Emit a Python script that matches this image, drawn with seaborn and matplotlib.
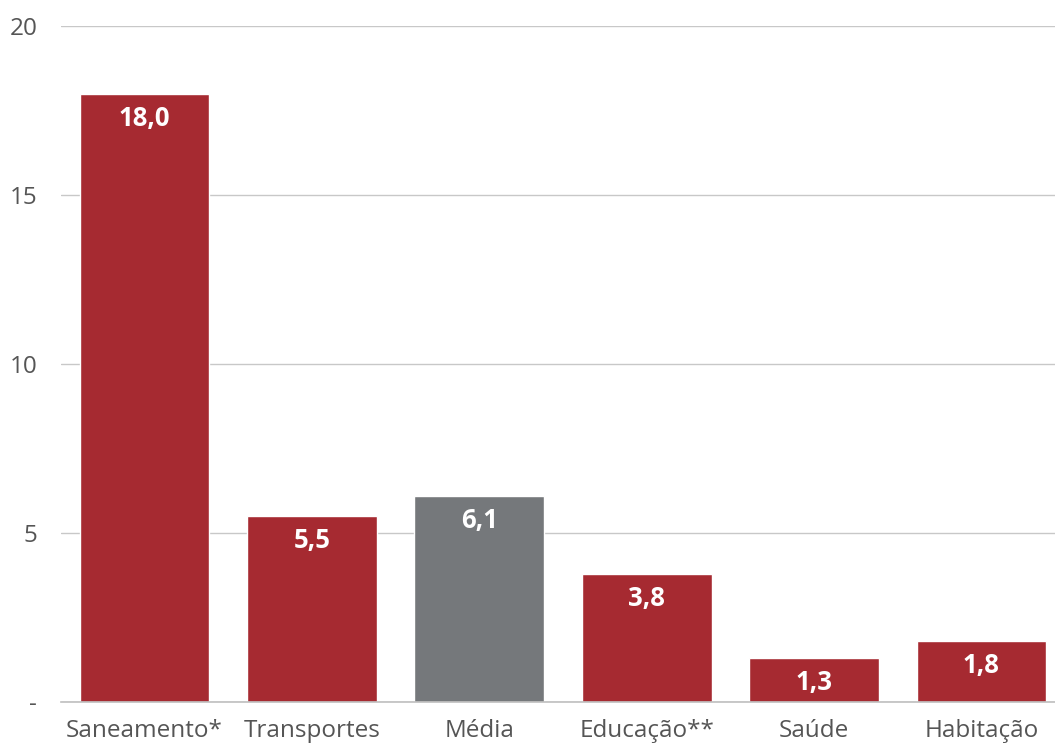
import seaborn as sns
import matplotlib.pyplot as plt
import pandas as pd

categorias = ['Saneamento*', 'Transportes', 'Média', 'Educação**', 'Saúde', 'Habitação']
valores = [18.0, 5.5, 6.1, 3.8, 1.3, 1.8]
rotulos = ['18,0', '5,5', '6,1', '3,8', '1,3', '1,8']
y_ticks = [0, 5, 10, 15, 20]
y_labels = ['-', '5', '10', '15', '20']

if __name__ == "__main__":
    sns.set_style('white')
    plt.rcParams['font.family'] = ['Open Sans', 'DejaVu Sans']

    vermelho = '#A62A31'
    cinza = '#75787B'
    texto = '#555555'

    df = pd.DataFrame({'categoria': categorias, 'valor': valores})
    cores = {c: (cinza if c == 'Média' else vermelho) for c in categorias}

    fig = plt.figure(figsize=(10.55, 7.45), dpi=100)
    ax = fig.add_axes([0.0578, 0.0577, 0.9422, 0.9074])
    ax.yaxis.grid(True, color='#C8C8C8', linewidth=1)
    ax.set_axisbelow(True)

    sns.barplot(data=df, x='categoria', y='valor', hue='categoria', palette=cores,
                legend=False, width=0.775, saturation=1, ax=ax)

    for i, (v, r) in enumerate(zip(valores, rotulos)):
        ax.annotate(r, (i, v), xytext=(0, -8), textcoords='offset points',
                    ha='center', va='top', color='white', fontsize=18.5, fontweight='bold')

    ax.set_xlim(-0.5, 5.44)
    ax.set_ylim(0, 20)
    ax.set_yticks(y_ticks)
    ax.set_yticklabels(y_labels)
    ax.set_xlabel('')
    ax.set_ylabel('')
    ax.tick_params(axis='both', length=0, labelsize=17.5, colors=texto)
    ax.tick_params(axis='y', pad=17)
    ax.tick_params(axis='x', pad=12)
    for s in ['top', 'right', 'left']:
        ax.spines[s].set_visible(False)
    ax.spines['bottom'].set_color('#BFBFBF')
    ax.spines['bottom'].set_linewidth(1.2)

    fig.savefig('out.png', dpi=100)
